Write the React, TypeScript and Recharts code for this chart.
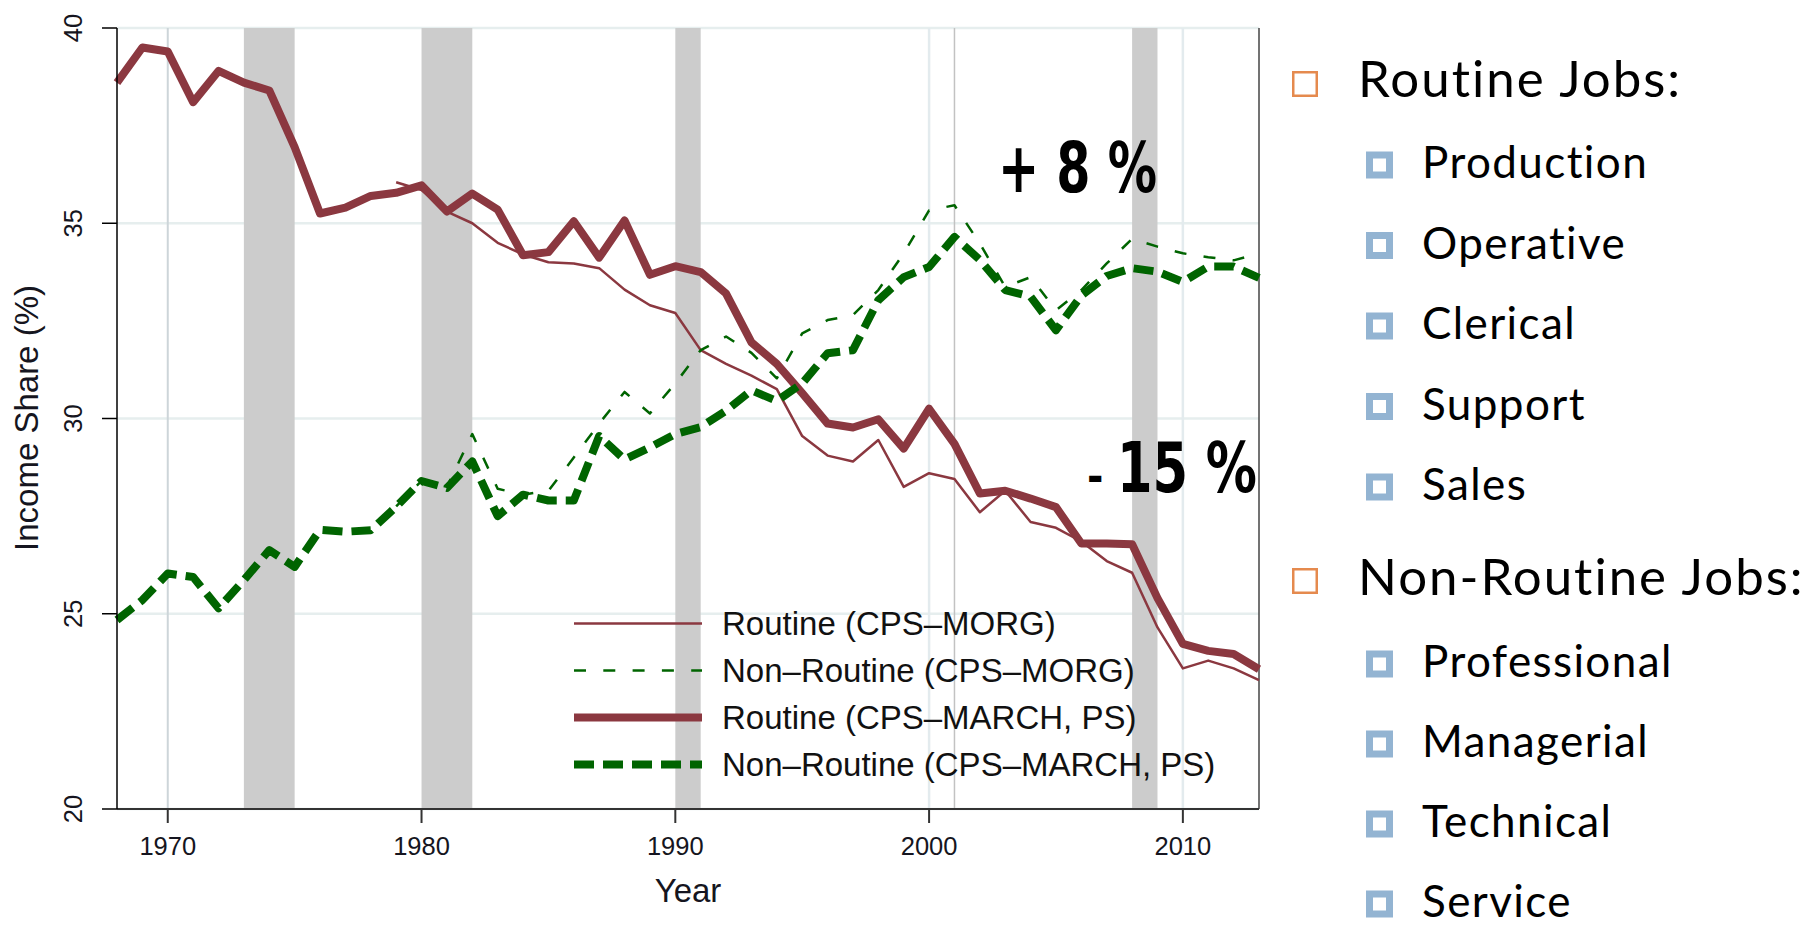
import React from "react"
import {
  LineChart, Line, XAxis, YAxis, CartesianGrid, ReferenceArea, ReferenceLine, Legend,
} from "recharts"

const years = [
  1968, 1969, 1970, 1971, 1972, 1973, 1974, 1975, 1976, 1977,
  1978, 1979, 1980, 1981, 1982, 1983, 1984, 1985, 1986, 1987,
  1988, 1989, 1990, 1991, 1992, 1993, 1994, 1995, 1996, 1997,
  1998, 1999, 2000, 2001, 2002, 2003, 2004, 2005, 2006, 2007,
  2008, 2009, 2010, 2011, 2012, 2013,
]

// CPS-MARCH, PS (1968-2013)
const routineMarch = [
  38.6, 39.5, 39.4, 38.1, 38.9, 38.6, 38.4, 36.95, 35.25, 35.4,
  35.7, 35.78, 35.97, 35.3, 35.76, 35.35, 34.18, 34.26, 35.05, 34.12,
  35.07, 33.68, 33.9, 33.75, 33.2, 31.95, 31.4, 30.65, 29.87, 29.77,
  29.98, 29.23, 30.25, 29.35, 28.08, 28.15, 27.95, 27.73, 26.8, 26.8,
  26.78, 25.4, 24.23, 24.05, 23.97, 23.58,
]
const nonRoutineMarch = [
  24.84, 25.35, 26.03, 25.94, 25.14, 25.86, 26.63, 26.2, 27.15, 27.1,
  27.14, 27.74, 28.4, 28.22, 28.9, 27.5, 28.05, 27.9, 27.9, 29.55,
  28.95, 29.26, 29.6, 29.78, 30.2, 30.72, 30.45, 30.9, 31.67, 31.75,
  33.03, 33.62, 33.88, 34.65, 34.06, 33.29, 33.12, 32.26, 33.15, 33.65,
  33.85, 33.76, 33.5, 33.89, 33.89, 33.6,
]

// CPS-MORG (1979-2013)
const routineMorg = [
  null, null, null, null, null, null, null, null, null, null, null,
  36.05, 35.85, 35.3, 35.0, 34.5, 34.2, 34.0, 33.97, 33.85, 33.3,
  32.9, 32.7, 31.75, 31.4, 31.1, 30.75, 29.55, 29.05, 28.9, 29.45,
  28.25, 28.6, 28.45, 27.6, 28.15, 27.35, 27.2, 26.85, 26.35, 26.05,
  24.65, 23.6, 23.8, 23.6, 23.3,
]
const nonRoutineMorg = [
  null, null, null, null, null, null, null, null, null, null, null,
  27.75, 28.4, 28.25, 29.6, 28.2, 28.05, 28.15, 29.0, 29.87, 30.68,
  30.13, 30.9, 31.75, 32.1, 31.68, 31.03, 32.18, 32.52, 32.65, 33.29,
  34.23, 35.33, 35.46, 34.48, 33.37, 33.62, 32.77, 33.29, 33.97, 34.6,
  34.4, 34.23, 34.13, 34.05, 34.23,
]

const recessions = [
  [1973, 1975],
  [1980, 1982],
  [1990, 1991],
  [2008, 2009],
]
const xTicks = [1970, 1980, 1990, 2000, 2010]
const yTicks = [20, 25, 30, 35, 40]

const legendItems = [
  { label: "Routine (CPS–MORG)", color: "#8b3840", width: 2.5, dash: undefined },
  { label: "Non–Routine (CPS–MORG)", color: "#006400", width: 2.5, dash: "12 17.3" },
  { label: "Routine (CPS–MARCH, PS)", color: "#8b3840", width: 8, dash: undefined },
  { label: "Non–Routine (CPS–MARCH, PS)", color: "#006400", width: 8, dash: "20 9" },
]

const routineJobs = ["Production", "Operative", "Clerical", "Support", "Sales"]
const nonRoutineJobs = ["Professional", "Managerial", "Technical", "Service"]

const data = years.map((year, i) => ({
  year,
  routineMorg: routineMorg[i],
  nonRoutineMorg: nonRoutineMorg[i],
  routineMarch: routineMarch[i],
  nonRoutineMarch: nonRoutineMarch[i],
}))

const RED = "#8b3840"
const GREEN = "#006400"
const AXIS_FONT = "'Liberation Sans', Arial, Helvetica, sans-serif"
const LIST_FONT = "Lato, 'Noto Sans', sans-serif"
const BOLD_FONT = "'Liberation Sans Narrow', 'DejaVu Sans Condensed', 'Liberation Sans', sans-serif"

function XTick(props: any) {
  const { x, y, payload } = props
  return (
    <text x={x} y={y + 30} textAnchor="middle" fontSize={25.5} fill="#151520" fontFamily={AXIS_FONT}>
      {payload.value}
    </text>
  )
}

function YTick(props: any) {
  const { x, y, payload } = props
  const tx = x - 18
  return (
    <text
      x={tx}
      y={y}
      transform={`rotate(-90 ${tx} ${y})`}
      textAnchor="middle"
      fontSize={25.5}
      fill="#151520"
      fontFamily={AXIS_FONT}
    >
      {payload.value}
    </text>
  )
}

function LegendBox() {
  return (
    <div style={{ fontFamily: AXIS_FONT, fontSize: 33, color: "#111" }}>
      {legendItems.map((item) => (
        <div key={item.label} style={{ display: "flex", alignItems: "center", height: 47 }}>
          <svg width={128} height={47} style={{ display: "block" }}>
            <line
              x1={0}
              x2={128}
              y1={23.5}
              y2={23.5}
              stroke={item.color}
              strokeWidth={item.width}
              strokeDasharray={item.dash}
            />
          </svg>
          <span style={{ marginLeft: 20, lineHeight: "47px", whiteSpace: "nowrap" }}>{item.label}</span>
        </div>
      ))}
    </div>
  )
}

function JobList() {
  const sub = (label: string, cy: number) => (
    <g key={label}>
      <rect x={1369.5} y={cy - 10} width={20} height={20} fill="#fff" stroke="#93b4d2" strokeWidth={7} />
      <text x={1422} y={cy + 13} fontSize={44} letterSpacing={1.4} fontFamily={LIST_FONT} fill="#000">
        {label}
      </text>
    </g>
  )
  return (
    <g>
      <rect x={1293.25} y={72.25} width={23.5} height={23.5} fill="#fff" stroke="#e58a4e" strokeWidth={2.5} />
      <text x={1358} y={97} fontSize={51} letterSpacing={2} fontFamily={LIST_FONT} fill="#000">
        Routine Jobs:
      </text>
      {routineJobs.map((label, i) => sub(label, 165 + i * 80.5))}
      <rect x={1293.25} y={569.25} width={23.5} height={23.5} fill="#fff" stroke="#e58a4e" strokeWidth={2.5} />
      <text x={1358} y={595} fontSize={51} letterSpacing={2} fontFamily={LIST_FONT} fill="#000">
        Non-Routine Jobs:
      </text>
      {nonRoutineJobs.map((label, i) => sub(label, 664 + i * 80))}
    </g>
  )
}

export default function App() {
  return (
    <div style={{ position: "absolute", left: 0, top: 0, width: 1804, height: 925, background: "#fff", overflow: "hidden" }}>
      <LineChart
        width={1804}
        height={925}
        data={data}
        margin={{ top: 28, right: 545, bottom: 56, left: 57 }}
      >
        <CartesianGrid horizontal vertical={false} stroke="#e6eeee" strokeWidth={2.5} />
        <ReferenceLine x={1970} stroke="#cdd5d9" strokeWidth={2} />
        <ReferenceLine x={2000} stroke="#e3ebee" strokeWidth={2.5} />
        <ReferenceLine x={2010} stroke="#e3ebee" strokeWidth={2.5} />
        {recessions.map(([a, b]) => (
          <ReferenceArea key={a} x1={a} x2={b} y1={20} y2={40} fill="#cccccc" fillOpacity={1} stroke="none" />
        ))}
        <ReferenceLine x={2001} stroke="#c2c2c2" strokeWidth={1.5} />
        <ReferenceLine x={2013} stroke="#444" strokeWidth={1.5} />
        <XAxis
          dataKey="year"
          type="number"
          domain={[1968, 2013]}
          ticks={xTicks}
          height={60}
          tickSize={14}
          tick={<XTick />}
          axisLine={{ stroke: "#333", strokeWidth: 2 }}
          tickLine={{ stroke: "#333", strokeWidth: 2 }}
        />
        <YAxis
          type="number"
          domain={[20, 40]}
          ticks={yTicks}
          width={60}
          tickSize={15}
          tick={<YTick />}
          axisLine={{ stroke: "#000", strokeWidth: 1.5 }}
          tickLine={{ stroke: "#000", strokeWidth: 1.5 }}
        />
        <Line
          dataKey="routineMorg"
          type="linear"
          stroke={RED}
          strokeWidth={2.5}
          dot={false}
          strokeLinejoin="round"
          isAnimationActive={false}
        />
        <Line
          dataKey="nonRoutineMorg"
          type="linear"
          stroke={GREEN}
          strokeWidth={2.5}
          strokeDasharray="12 17.3"
          dot={false}
          strokeLinejoin="round"
          isAnimationActive={false}
        />
        <Line
          dataKey="routineMarch"
          type="linear"
          stroke={RED}
          strokeWidth={8}
          dot={false}
          strokeLinejoin="round"
          isAnimationActive={false}
        />
        <Line
          dataKey="nonRoutineMarch"
          type="linear"
          stroke={GREEN}
          strokeWidth={8}
          strokeDasharray="20 9"
          dot={false}
          strokeLinejoin="round"
          isAnimationActive={false}
        />
        <Legend
          layout="vertical"
          align="center"
          verticalAlign="middle"
          wrapperStyle={{ left: 574, top: 600, width: 720 }}
          content={() => <LegendBox />}
        />
      </LineChart>
      <svg
        width={1804}
        height={925}
        style={{ position: "absolute", left: 0, top: 0, pointerEvents: "none" }}
      >
        <text
          x={38}
          y={418}
          transform="rotate(-90 38 418)"
          textAnchor="middle"
          fontSize={33}
          fill="#151520"
          fontFamily={AXIS_FONT}
        >
          Income Share (%)
        </text>
        <text x={688} y={902} textAnchor="middle" fontSize={33} fill="#151520" fontFamily={AXIS_FONT}>
          Year
        </text>
        <text
          x={998}
          y={192}
          fontSize={70}
          fontWeight="bold"
          fontFamily={BOLD_FONT}
          fill="#000"
          textLength={159}
          lengthAdjust="spacingAndGlyphs"
        >
          + 8 %
        </text>
        <text x={1087} y={492} fontSize={44} fontWeight="bold" fontFamily={BOLD_FONT} fill="#000">
          -
        </text>
        <text
          x={1117}
          y={492}
          fontSize={70}
          fontWeight="bold"
          fontFamily={BOLD_FONT}
          fill="#000"
          textLength={140}
          lengthAdjust="spacingAndGlyphs"
        >
          15 %
        </text>
        <JobList />
      </svg>
    </div>
  )
}
